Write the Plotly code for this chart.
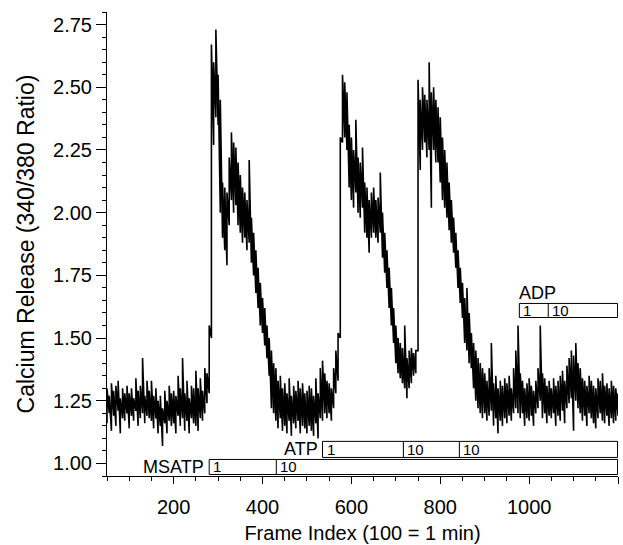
import plotly.graph_objects as go

# ---- data (trace envelope every 5 frames: low / high) ----
frame_start = 50
frame_step = 5
ratio_low = [
    1.16, 1.20, 1.13, 1.19, 1.15, 1.21, 1.12, 1.18, 1.17, 1.20,   # 50-95
    1.14, 1.19, 1.17, 1.21, 1.15, 1.18, 1.20, 1.16, 1.19, 1.18,   # 100-145
    1.17, 1.14, 1.18, 1.12, 1.15, 1.07, 1.16, 1.12, 1.17, 1.15,   # 150-195
    1.16, 1.12, 1.19, 1.15, 1.18, 1.13, 1.17, 1.12, 1.18, 1.16,   # 200-245
    1.15, 1.13, 1.18, 1.17, 1.20, 1.24, 1.28, 1.50, 2.27, 2.38,   # 250-295
    2.35, 2.00, 1.90, 1.85, 1.79, 1.95, 2.05, 2.00, 2.03, 1.95,   # 300-345
    1.92, 1.88, 1.90, 1.85, 1.88, 1.80, 1.75, 1.68, 1.62, 1.55,   # 350-395
    1.52, 1.47, 1.42, 1.35, 1.22, 1.20, 1.17, 1.14, 1.18, 1.13,   # 400-445
    1.15, 1.12, 1.17, 1.11, 1.16, 1.14, 1.17, 1.12, 1.15, 1.14,   # 450-495
    1.12, 1.15, 1.13, 1.11, 1.16, 1.10, 1.18, 1.17, 1.20, 1.18,   # 500-545
    1.20, 1.17, 1.22, 1.28, 1.33, 1.50, 2.28, 2.30, 2.25, 2.10,   # 550-595
    2.05, 2.02, 2.08, 2.00, 1.98, 2.02, 1.92, 1.90, 1.84, 1.90,   # 600-645
    1.92, 1.90, 1.88, 1.92, 1.82, 1.76, 1.70, 1.62, 1.55, 1.48,   # 650-695
    1.40, 1.36, 1.34, 1.32, 1.30, 1.26, 1.30, 1.32, 1.35, 1.36,   # 700-745
    1.45, 2.17, 2.25, 2.28, 2.22, 2.25, 2.02, 2.25, 2.20, 2.20,   # 750-795
    2.12, 2.05, 2.02, 1.98, 1.93, 1.88, 1.84, 1.78, 1.70, 1.64,   # 800-845
    1.58, 1.48, 1.45, 1.40, 1.38, 1.30, 1.25, 1.22, 1.20, 1.18,   # 850-895
    1.20, 1.17, 1.19, 1.21, 1.15, 1.18, 1.12, 1.17, 1.15, 1.18,   # 900-945
    1.16, 1.19, 1.17, 1.20, 1.22, 1.20, 1.18, 1.20, 1.15, 1.18,   # 950-995
    1.17, 1.19, 1.15, 1.20, 1.22, 1.25, 1.18, 1.20, 1.16, 1.19,   # 1000-1045
    1.18, 1.20, 1.15, 1.19, 1.17, 1.21, 1.16, 1.22, 1.24, 1.26,   # 1050-1095
    1.13, 1.25, 1.22, 1.20, 1.17, 1.19, 1.15, 1.20, 1.18, 1.16,   # 1100-1145
    1.14, 1.18, 1.20, 1.17, 1.16, 1.19, 1.15, 1.18, 1.16, 1.17,   # 1150-1195
    1.19,                                                          # 1200
]
ratio_high = [
    1.30, 1.27, 1.32, 1.29, 1.31, 1.33, 1.26, 1.30, 1.28, 1.31,   # 50-95
    1.28, 1.30, 1.26, 1.34, 1.29, 1.31, 1.42, 1.27, 1.33, 1.29,   # 100-145
    1.33, 1.27, 1.30, 1.25, 1.27, 1.22, 1.29, 1.25, 1.31, 1.28,   # 150-195
    1.29, 1.27, 1.35, 1.30, 1.42, 1.28, 1.33, 1.26, 1.31, 1.30,   # 200-245
    1.37, 1.30, 1.34, 1.29, 1.38, 1.36, 1.55, 2.67, 2.60, 2.73,   # 250-295
    2.55, 2.45, 2.12, 2.10, 2.08, 2.22, 2.32, 2.28, 2.26, 2.20,   # 300-345
    2.15, 2.10, 2.08, 2.05, 2.21, 1.98, 1.92, 1.85, 1.78, 1.72,   # 350-395
    1.66, 1.62, 1.55, 1.50, 1.45, 1.40, 1.38, 1.33, 1.35, 1.30,   # 400-445
    1.32, 1.28, 1.34, 1.27, 1.31, 1.29, 1.33, 1.30, 1.32, 1.28,   # 450-495
    1.29, 1.31, 1.30, 1.27, 1.34, 1.28, 1.38, 1.41, 1.36, 1.33,   # 500-545
    1.32, 1.30, 1.38, 1.45, 1.52, 2.30, 2.55, 2.52, 2.48, 2.35,   # 550-595
    2.30, 2.25, 2.37, 2.22, 2.20, 2.26, 2.12, 2.10, 2.05, 2.08,   # 600-645
    2.10, 2.05, 2.06, 2.16, 2.00, 1.92, 1.85, 1.78, 1.70, 1.62,   # 650-695
    1.55, 1.50, 1.48, 1.46, 1.55, 1.42, 1.45, 1.46, 1.44, 1.45,   # 700-745
    2.53, 2.45, 2.50, 2.47, 2.45, 2.60, 2.48, 2.50, 2.45, 2.42,   # 750-795
    2.38, 2.30, 2.25, 2.20, 2.12, 2.05, 1.98, 1.92, 1.85, 1.78,   # 800-845
    1.72, 1.66, 1.70, 1.60, 1.52, 1.48, 1.45, 1.42, 1.40, 1.38,   # 850-895
    1.36, 1.33, 1.38, 1.48, 1.32, 1.35, 1.30, 1.33, 1.31, 1.34,   # 900-945
    1.32, 1.35, 1.30, 1.38, 1.45, 1.55, 1.36, 1.33, 1.30, 1.32,   # 950-995
    1.34, 1.31, 1.29, 1.33, 1.38, 1.55, 1.36, 1.34, 1.31, 1.33,   # 1000-1045
    1.30, 1.34, 1.31, 1.33, 1.35, 1.37, 1.33, 1.39, 1.42, 1.45,   # 1050-1095
    1.43, 1.48, 1.40, 1.38, 1.34, 1.33, 1.31, 1.35, 1.33, 1.31,   # 1100-1145
    1.30, 1.34, 1.33, 1.36, 1.31, 1.32, 1.30, 1.33, 1.31, 1.30,   # 1150-1195
    1.28,                                                          # 1200
]
frames = [frame_start + i * frame_step for i in range(len(ratio_low))]

x_tick_vals = [200, 400, 600, 800, 1000, 1200]
x_tick_text = ["200", "400", "600", "800", "1000", ""]
y_tick_vals = [1.00, 1.25, 1.50, 1.75, 2.00, 2.25, 2.50, 2.75]

# treatment bars: segment start frames and their labels
msatp_starts = [280, 431]
msatp_labels = ["1", "10"]
atp_starts = [535, 717, 843]
atp_labels = ["1", "10", "10"]
adp_starts = [978, 1043]
adp_labels = ["1", "10"]
bar_end = 1199

FONT = "Liberation Sans, Arial, Helvetica, sans-serif"

# interleave the envelope so every 5-frame step is drawn as a low-high stroke
trace_x, trace_y = [], []
for f, lo, hi in zip(frames, ratio_low, ratio_high):
    trace_x += [f, f]
    trace_y += [lo, hi]

fig = go.Figure()
fig.add_trace(go.Scatter(x=trace_x, y=trace_y, mode="lines",
                         line=dict(color="black", width=1.6),
                         showlegend=False, hoverinfo="skip"))

shapes = []
annotations = []


def add_bar(name, starts, labels, y0, y1, label_pos):
    shapes.append(dict(type="rect", xref="x", yref="y", x0=starts[0], x1=bar_end,
                       y0=y0, y1=y1, line=dict(color="black", width=1),
                       fillcolor="rgba(0,0,0,0)"))
    for s in starts[1:]:
        shapes.append(dict(type="line", xref="x", yref="y", x0=s, x1=s, y0=y0, y1=y1,
                           line=dict(color="black", width=1)))
    for s, t in zip(starts, labels):
        annotations.append(dict(x=s, y=(y0 + y1) / 2, xref="x", yref="y", text=t,
                                showarrow=False, xanchor="left", xshift=2,
                                font=dict(family=FONT, size=15, color="black")))
    if label_pos == "left":
        annotations.append(dict(x=starts[0], y=(y0 + y1) / 2, xref="x", yref="y",
                                text=name, showarrow=False, xanchor="right", xshift=-3,
                                font=dict(family=FONT, size=18, color="black")))
    else:
        annotations.append(dict(x=starts[0], y=y1, xref="x", yref="y",
                                text=name, showarrow=False, xanchor="left", yanchor="bottom",
                                xshift=-2, yshift=-2,
                                font=dict(family=FONT, size=18, color="black")))


add_bar("MSATP", msatp_starts, msatp_labels, 0.956, 1.016, "left")
add_bar("ATP", atp_starts, atp_labels, 1.024, 1.088, "left")
add_bar("ADP", adp_starts, adp_labels, 1.582, 1.638, "top")

fig.update_layout(
    width=623, height=545,
    margin=dict(l=107, r=5, t=12, b=69, autoexpand=False),
    paper_bgcolor="white", plot_bgcolor="white",
    font=dict(family=FONT, size=20, color="black"),
    shapes=shapes, annotations=annotations,
    xaxis=dict(range=[50, 1200], showgrid=False, zeroline=False,
               showline=True, linecolor="black", linewidth=1,
               tickmode="array", tickvals=x_tick_vals, ticktext=x_tick_text,
               ticks="outside", ticklen=7, tickcolor="black", tickwidth=1,
               ticklabelstandoff=6,
               minor=dict(dtick=50, tick0=0, ticks="outside", ticklen=4,
                          tickcolor="black", showgrid=False),
               title=dict(text="Frame Index (100 = 1 min)", standoff=8,
                          font=dict(size=20))),
    yaxis=dict(range=[0.95, 2.80], showgrid=False, zeroline=False,
               showline=True, linecolor="black", linewidth=1,
               tickmode="array", tickvals=y_tick_vals, tickformat=".2f",
               ticks="outside", ticklen=10, tickcolor="black", tickwidth=1,
               minor=dict(dtick=0.05, tick0=0, ticks="outside", ticklen=4,
                          tickcolor="black", showgrid=False),
               title=dict(text="Calcium Release (340/380 Ratio)", standoff=12,
                          font=dict(size=23))),
)

fig.write_html("out.html",
               config={"displayModeBar": False, "staticPlot": True},
               post_script="document.body.style.margin='0';"
                           "document.body.style.overflow='hidden';")
